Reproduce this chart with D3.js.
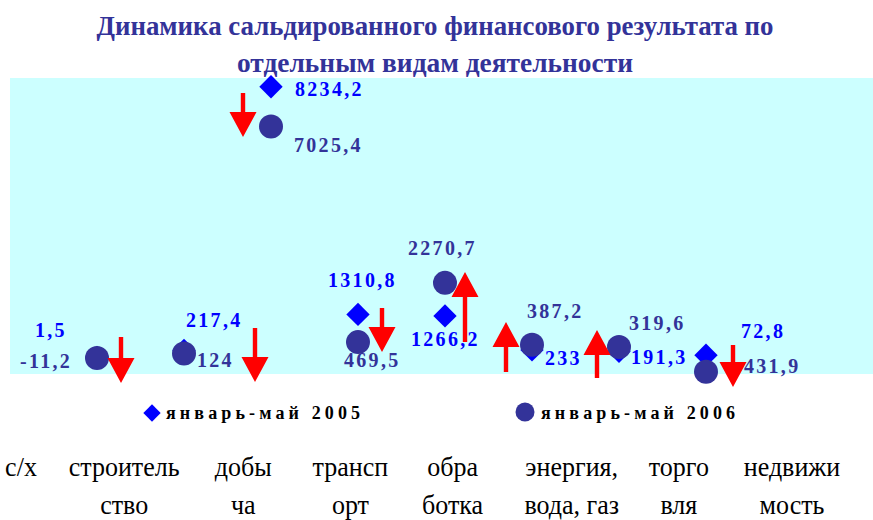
<html>
<head>
<style>
body { margin: 0; background: #fff; }
svg text { font-family: "Liberation Serif", "DejaVu Serif", "Times New Roman", serif; }
</style>
</head>
<body>
<svg></svg>
<script src="https://cdnjs.cloudflare.com/ajax/libs/d3/7.8.5/d3.min.js"></script>
<script>
// data
var categories = ["с/х", "строительство", "добыча", "транспорт", "обработка", "энергия, вода, газ", "торговля", "недвижимость"];
var categoryLines = [["с/х", ""], ["строитель", "ство"], ["добы", "ча"], ["трансп", "орт"],
                     ["обра", "ботка"], ["энергия,", "вода, газ"], ["торго", "вля"], ["недвижи", "мость"]];
var values2005 = [1.5, 217.4, 8234.2, 1310.8, 1266.2, 233, 191.3, 72.8];
var values2006 = [-11.2, 124, 7025.4, 469.5, 2270.7, 387.2, 319.6, -431.9];
var seriesNames = ["январь-май 2005", "январь-май 2006"];
var titleLines = ["Динамика сальдированного финансового результата по", "отдельным видам деятельности"];

// layout of value labels: [dx, dy] from the marker
var labelPos2005 = [[-62, -21], [2, -23], [24, 9], [-30, -27], [-34, 30], [13, 15], [12, 13], [35, -17]];
var labelPos2006 = [[-77, 10], [13, 14], [23, 26], [-14, 25], [-37, -28], [-5, -27], [10, -17], [29, 1]];
// red arrows: horizontal offset, tail and tip in value units
var arrowDx = [24, 71, -28, 24, 20, -26, -22, 27];
var arrowFrom = [625, 899, 8044, 1507, 473, -439, -622, 382];
var arrowTo = [-774, -743, 6706, 169, 2601, 1081, 838, -895];
// small nudges of the category captions (table columns are uneven)
var captionNudge = [0, -7, 2, -1, -9, 0, -3, 0];

var width = 873, height = 520;
var c2005 = "#0000ff", c2006 = "#333399";
var serif = "'Liberation Serif', 'DejaVu Serif', serif";

var svg = d3.select("svg").attr("width", width).attr("height", height)
    .attr("font-family", serif);

var x = d3.scalePoint().domain(categories).range([97, 706]);
var xLab = d3.scalePoint().domain(categories).range([21, 792]);
var y = d3.scaleLinear().domain([-500, 8500]).range([374, 78]);

var fmt = function(v) { return String(v).replace(".", ","); };

// title
svg.selectAll(".title").data(titleLines).enter().append("text")
    .attr("x", 435)
    .attr("y", function(d, i) { return i ? 72 : 35; })
    .attr("text-anchor", "middle")
    .attr("font-size", 27)
    .attr("font-weight", "bold")
    .attr("fill", c2006)
    .attr("textLength", function(d, i) { return i ? 396 : 677; })
    .attr("lengthAdjust", "spacingAndGlyphs")
    .text(function(d) { return d; });

// plot area
svg.append("rect")
    .attr("x", 10).attr("y", y(8500))
    .attr("width", width - 10).attr("height", y(-500) - y(8500))
    .attr("fill", "#ccffff");

var diamond = d3.symbol().type(d3.symbolSquare).size(272);

svg.append("g").selectAll("path").data(values2005).enter().append("path")
    .attr("d", diamond)
    .attr("fill", c2005)
    .attr("transform", function(d, i) { return "translate(" + x(categories[i]) + "," + y(d) + ") rotate(45)"; });

svg.append("g").selectAll("circle").data(values2006).enter().append("circle")
    .attr("cx", function(d, i) { return x(categories[i]); })
    .attr("cy", function(d) { return y(d); })
    .attr("r", 12)
    .attr("fill", c2006);

function valueLabels(vals, pos, color) {
  svg.append("g").selectAll("text").data(vals).enter().append("text")
      .attr("x", function(d, i) { return x(categories[i]) + pos[i][0]; })
      .attr("y", function(d, i) { return y(d) + pos[i][1]; })
      .attr("font-size", 20)
      .attr("font-weight", "bold")
      .attr("letter-spacing", 2.3)
      .attr("fill", color)
      .text(fmt);
}
valueLabels(values2005, labelPos2005, c2005);
valueLabels(values2006, labelPos2006, c2006);

// arrows
var sw = 2.2, hw = 13.5, hl = 25;
svg.append("g").selectAll("path").data(categories).enter().append("path")
    .attr("fill", "#ff0000")
    .attr("d", function(c, i) {
      var ax = x(c) + arrowDx[i], y0 = y(arrowFrom[i]), y1 = y(arrowTo[i]);
      var dir = y1 > y0 ? 1 : -1, yb = y1 - dir * hl;
      return "M" + (ax - sw) + "," + y0 + "L" + (ax + sw) + "," + y0 +
             "L" + (ax + sw) + "," + yb + "L" + (ax + hw) + "," + yb +
             "L" + ax + "," + y1 + "L" + (ax - hw) + "," + yb +
             "L" + (ax - sw) + "," + yb + "Z";
    });

// legend
var legend = svg.append("g");
legend.append("path")
    .attr("d", d3.symbol().type(d3.symbolSquare).size(150))
    .attr("fill", c2005)
    .attr("transform", "translate(152,413) rotate(45)");
legend.append("circle").attr("cx", 525).attr("cy", 412).attr("r", 9.5).attr("fill", c2006);
legend.selectAll("text").data(seriesNames).enter().append("text")
    .attr("x", function(d, i) { return i ? 541 : 166; })
    .attr("y", 419)
    .attr("font-size", 18)
    .attr("font-weight", "bold")
    .attr("textLength", 194)
    .attr("lengthAdjust", "spacing")
    .text(function(d) { return d; });

// category labels
var cat = svg.append("g").selectAll("g").data(categories).enter().append("g")
    .attr("transform", function(c, i) { return "translate(" + (xLab(c) + captionNudge[i]) + ",0) scale(0.93,1)"; });
cat.selectAll("text").data(function(c, i) { return categoryLines[i]; }).enter().append("text")
    .attr("x", 0)
    .attr("y", function(d, j) { return j ? 514 : 476; })
    .attr("text-anchor", "middle")
    .attr("font-size", 28)
    .attr("fill", "#000")
    .text(function(d) { return d; });
</script>
</body>
</html>
